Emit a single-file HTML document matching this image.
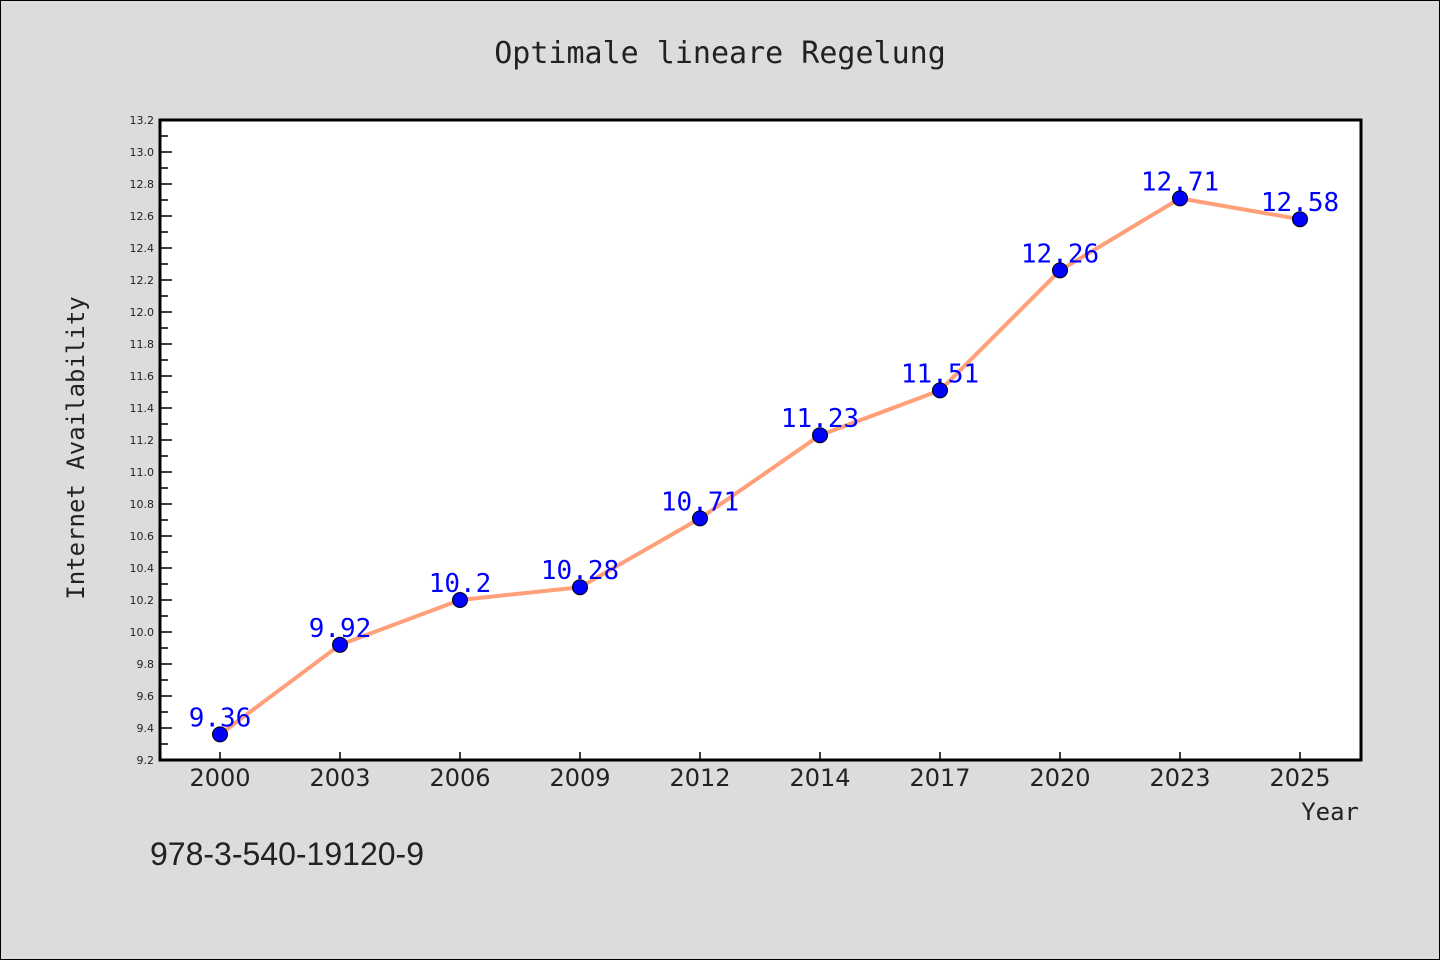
<!DOCTYPE html>
<html><head><meta charset="utf-8"><style>
body{margin:0;background:#dcdcdc;}
svg{display:block;}
</style></head><body>
<svg width="1440" height="960" xmlns="http://www.w3.org/2000/svg">
<rect x="0.5" y="0.5" width="1439" height="959" fill="#dcdcdc" stroke="#000"/>
<text x="720" y="63" text-anchor="middle" font-family="DejaVu Sans Mono, monospace" font-size="30" fill="#222">Optimale lineare Regelung</text>
<rect x="160" y="120" width="1201" height="640" fill="#fff"/>
<g id="marks"></g>
<rect x="160" y="120" width="1201" height="640" fill="none" stroke="#000" stroke-width="3"/>
<text transform="translate(84,448) rotate(-90)" text-anchor="middle" font-family="DejaVu Sans Mono, monospace" font-size="24" fill="#222">Internet Availability</text>
<text x="1359" y="820" text-anchor="end" font-family="DejaVu Sans Mono, monospace" font-size="24" fill="#222">Year</text>
<text x="150" y="865" font-family="Liberation Sans, sans-serif" font-size="32" fill="#222">978-3-540-19120-9</text>
</svg>
<script>
const categories=["2000","2003","2006","2009","2012","2014","2017","2020","2023","2025"];
const values=[9.36,9.92,10.2,10.28,10.71,11.23,11.51,12.26,12.71,12.58];
const yTicks=[9.2,9.4,9.6,9.8,10.0,10.2,10.4,10.6,10.8,11.0,11.2,11.4,11.6,11.8,12.0,12.2,12.4,12.6,12.8,13.0,13.2];
const yMin=9.2,yMax=13.2,L=160,R=1360,T=120,B=760;
const NS="http://www.w3.org/2000/svg";
const g=document.getElementById('marks');
function x(i){return L+(R-L)/categories.length*(i+0.5);}
function y(v){return B-(v-yMin)/(yMax-yMin)*(B-T);}
function mk(t,a){const e=document.createElementNS(NS,t);for(const k in a)e.setAttribute(k,a[k]);g.appendChild(e);return e;}
yTicks.forEach((v,i)=>{
  const yy=y(v);
  const t=mk('line',{x1:L,x2:L+12,y1:yy,y2:yy,stroke:'#000','stroke-width':1.5});
  
  
  if(i<yTicks.length-1){const ym=y(v+0.1);const m=mk('line',{x1:L,x2:L+8,y1:ym,y2:ym,stroke:'#000','stroke-width':1.5});
  
  }
  const lb=mk('text',{x:L-6,y:yy+4,'text-anchor':'end','font-family':'DejaVu Sans, sans-serif','font-size':11,fill:'#222'});
  lb.textContent=v.toFixed(1);
  
  
});
categories.forEach((c,i)=>{
  const t=mk('line',{x1:x(i),x2:x(i),y1:B,y2:B-8,stroke:'#000','stroke-width':1.5});
  
  
  const lb=mk('text',{x:x(i),y:B+26,'text-anchor':'middle','font-family':'DejaVu Sans, sans-serif','font-size':24,fill:'#222'});
  lb.textContent=c;
  
  
});
const line=mk('polyline',{points:values.map((v,i)=>x(i)+','+y(v)).join(' '),fill:'none',stroke:'#ffa07a','stroke-width':4,'stroke-linejoin':'round'});


values.forEach((v,i)=>{
  const c=mk('circle',{cx:x(i),cy:y(v),r:7.5,fill:'#0000ff',stroke:'#000','stroke-width':1});
  
  
  const t=mk('text',{x:x(i),y:y(v)-8,'text-anchor':'middle','font-family':'DejaVu Sans Mono, monospace','font-size':26,fill:'#0000ff'});
  t.textContent=String(v);
  
  
});
</script>
</body></html>
